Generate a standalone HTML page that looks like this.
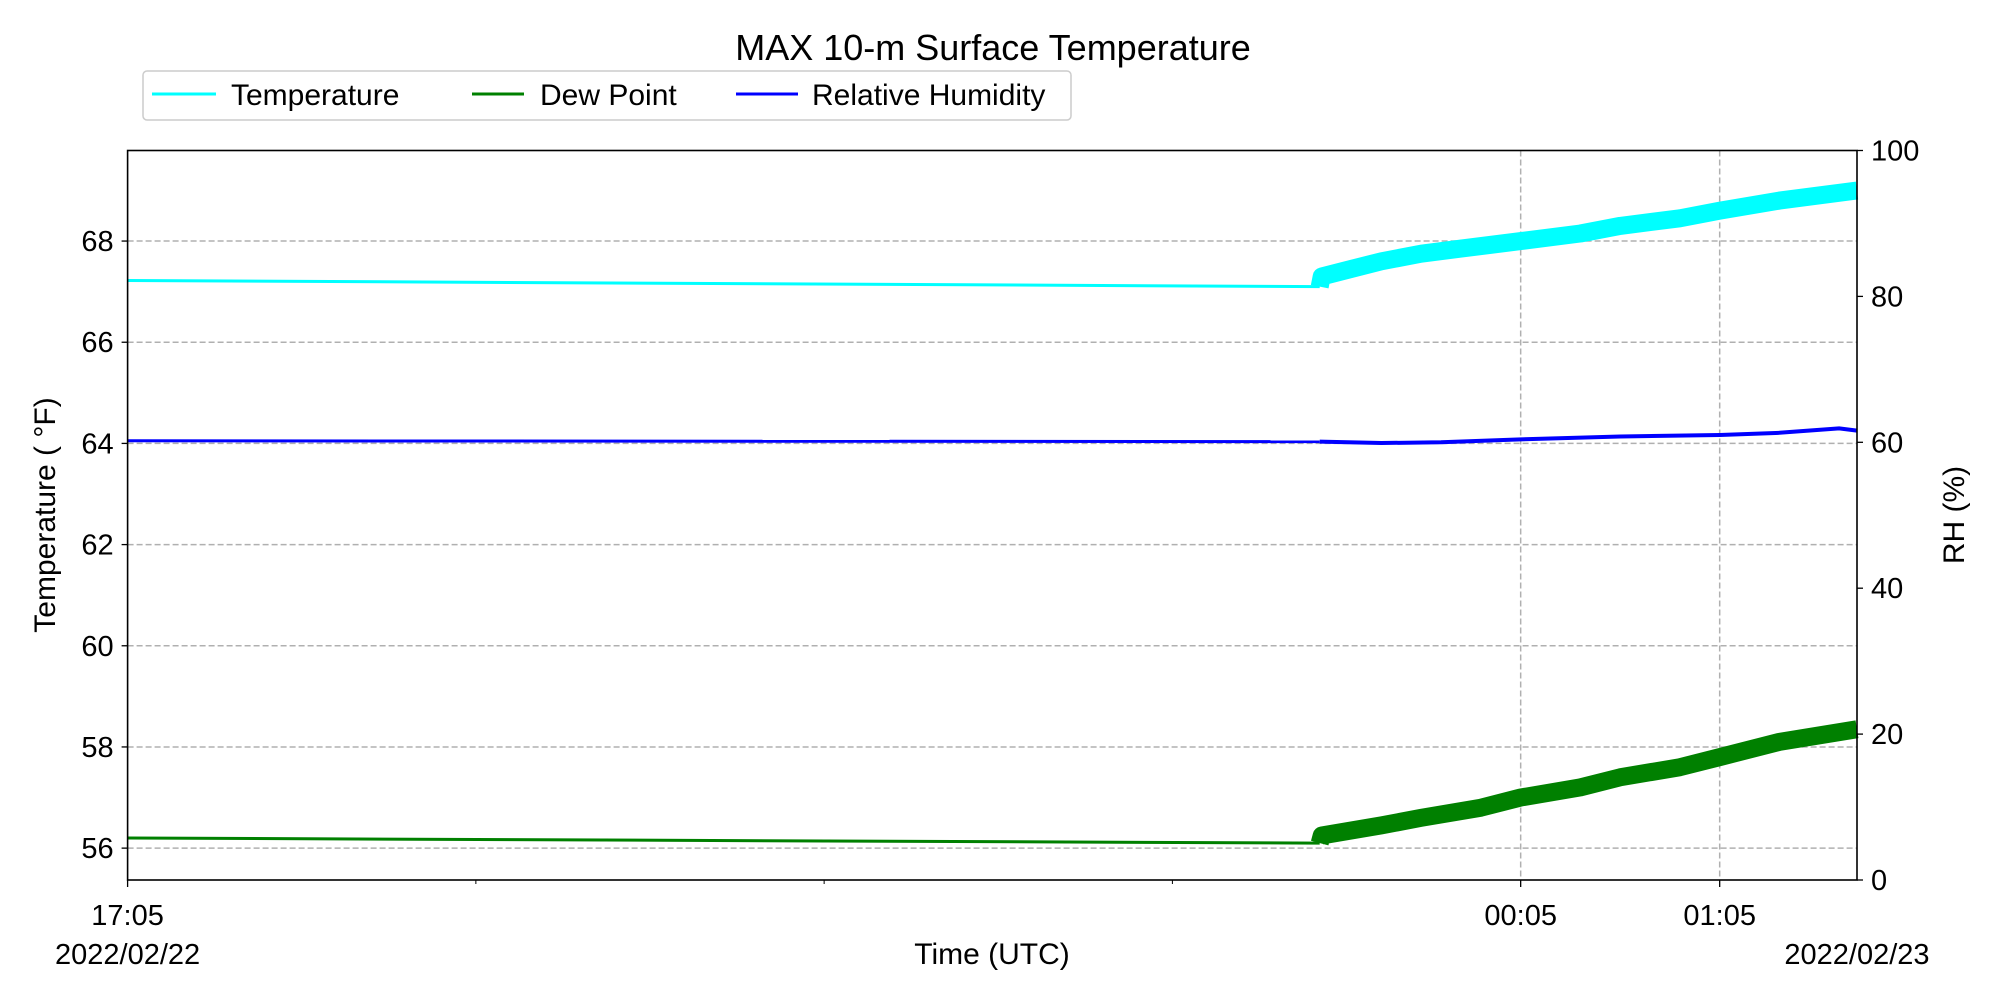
<!DOCTYPE html>
<html><head><meta charset="utf-8"><style>
body{margin:0;background:#fff}
svg{display:block;font-family:"Liberation Sans","DejaVu Sans",sans-serif}
</style></head><body>
<svg id="c" width="2000" height="1000" viewBox="0 0 2000 1000" xmlns="http://www.w3.org/2000/svg">
<text x="993" y="60" font-size="36" text-anchor="middle">MAX 10-m Surface Temperature</text>
<g>
<rect x="143" y="71" width="928" height="49" rx="4" fill="#fff" stroke="#ccc" stroke-width="1.5"/>
<g><line x1="152" y1="94" x2="216" y2="94" stroke="#00ffff" stroke-width="3"/><text x="231" y="105" font-size="30">Temperature</text></g>
<g><line x1="472" y1="94" x2="524" y2="94" stroke="#008000" stroke-width="3"/><text x="540" y="105" font-size="30">Dew Point</text></g>
<g><line x1="736" y1="94" x2="798" y2="94" stroke="#0000ff" stroke-width="3"/><text x="812" y="105" font-size="30">Relative Humidity</text></g>
</g>
<g id="grid"></g>
<g id="series"></g>
<g id="axes"></g>
<text transform="translate(55,515) rotate(-90)" font-size="30" text-anchor="middle">Temperature ( °F)</text>
<text transform="translate(1964,515) rotate(-90)" font-size="30" text-anchor="middle">RH (%)</text>
<text x="992" y="964" font-size="30" text-anchor="middle">Time (UTC)</text>
</svg>
<script>
// hours since 17:05 2022/02/22
const tempHours=[0,5.99,6.0,6.15,6.3,6.5,6.7,7.0,7.3,7.5,7.8,8.0,8.3,8.69];
const tempValues=[67.22,67.1,67.3,67.45,67.6,67.75,67.85,68.0,68.15,68.3,68.45,68.6,68.8,69.0];
const dewHours=[0,5.99,6.0,6.3,6.5,6.8,7.0,7.3,7.5,7.8,8.0,8.3,8.69];
const dewValues=[56.2,56.1,56.25,56.45,56.6,56.8,57.0,57.2,57.4,57.6,57.8,58.1,58.35];
const rhHours=[0,5.99,6.3,6.6,7.0,7.5,8.0,8.3,8.6,8.69];
const rhValues=[60.2,60.1,59.9,60.0,60.4,60.8,61.0,61.3,61.9,61.6];
const leftTicks=[56,58,60,62,64,66,68];
const rightTicks=[0,20,40,60,80,100];
const xMajorHours=[0,7,8];
const xMajorLabels=["17:05","00:05","01:05"];
const xMinorHours=[1.75,3.5,5.25];
const breakHour=5.995;

const L=127.6,R=1857,T=150.5,B=880;
const XMAX=8.69, YMIN=55.37, YMAX=69.79;
const x=h=>L+(R-L)*h/XMAX;
const y=v=>B-(B-T)*(v-YMIN)/(YMAX-YMIN);
const y2=v=>B-(B-T)*v/100;
const NS="http://www.w3.org/2000/svg";
function mk(tag,attrs,parent,txt){const e=document.createElementNS(NS,tag);for(const k in attrs)e.setAttribute(k,attrs[k]);if(txt!==undefined)e.textContent=txt;parent.appendChild(e);return e;}
const grid=document.getElementById('grid'),ser=document.getElementById('series'),ax=document.getElementById('axes');
const FS=29;
leftTicks.forEach(v=>{
 const g=mk('line',{x1:L,x2:R,y1:y(v),y2:y(v),stroke:'#b0b0b0','stroke-width':1.5,'stroke-dasharray':'6,3'},grid);
 
 
 mk('line',{x1:L-6,x2:L,y1:y(v),y2:y(v),stroke:'#000','stroke-width':1.3},ax);
 const t=mk('text',{x:L-14,y:y(v)+10,'font-size':FS,'text-anchor':'end'},ax,String(v));
 
 
});
rightTicks.forEach(v=>{
 mk('line',{x1:R,x2:R+6,y1:y2(v),y2:y2(v),stroke:'#000','stroke-width':1.3},ax);
 const t=mk('text',{x:R+14,y:y2(v)+10,'font-size':FS},ax,String(v));
 
 
});
xMajorHours.forEach((h,i)=>{
 if(h>0){const g=mk('line',{x1:x(h),x2:x(h),y1:T,y2:B,stroke:'#b0b0b0','stroke-width':1.5,'stroke-dasharray':'6,3'},grid);
 
 }
 mk('line',{x1:x(h),x2:x(h),y1:B,y2:B+7,stroke:'#000','stroke-width':1.3},ax);
 const t=mk('text',{x:x(h),y:925,'font-size':FS,'text-anchor':'middle'},ax,xMajorLabels[i]);
 
 
});
xMinorHours.forEach(h=>mk('line',{x1:x(h),x2:x(h),y1:B,y2:B+4,stroke:'#000','stroke-width':1},ax));
const d1=mk('text',{x:L,y:964,'font-size':FS,'text-anchor':'middle'},ax,"2022/02/22");


const d2=mk('text',{x:R,y:964,'font-size':FS,'text-anchor':'middle'},ax,"2022/02/23");


const fr=mk('rect',{x:L,y:T,width:R-L,height:B-T,fill:'none',stroke:'#000','stroke-width':1.6},ax);



function draw(hs,vs,sy,color,name,thick){
 const pre=[],post=[];
 hs.forEach((h,i)=>{const p=x(h).toFixed(1)+','+sy(vs[i]).toFixed(1);(h<=breakHour?pre:post).push(p);});
 if(pre.length)post.unshift(pre[pre.length-1]);
 const a=mk('polyline',{points:pre.join(' '),fill:'none',stroke:color,'stroke-width':3},ser);
 
 
 const b=mk('polyline',{points:post.join(' '),fill:'none',stroke:color,'stroke-width':thick,'stroke-linejoin':'round'},ser);
 
 
}
draw(tempHours,tempValues,y,'#00ffff','temperature',18);
draw(dewHours,dewValues,y,'#008000','dew-point',18);
draw(rhHours,rhValues,y2,'#0000ff','relative-humidity',4);
</script>
</body></html>
